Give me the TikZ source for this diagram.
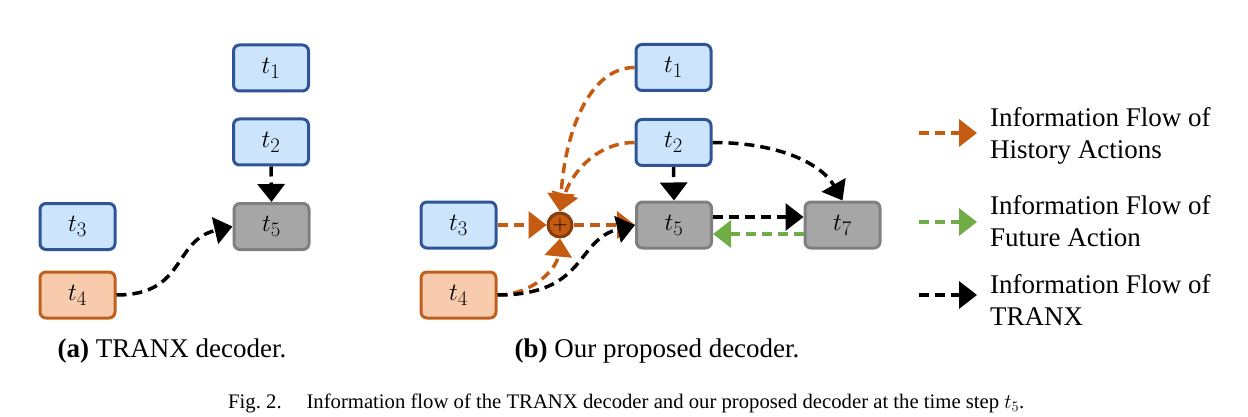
\documentclass[tikz,border=0pt]{standalone}
\usepackage{fontspec}
\setmainfont{Liberation Serif}
\usetikzlibrary{arrows.meta}
\definecolor{bfill}{HTML}{CCE4FC}
\definecolor{bdraw}{HTML}{2F5597}
\definecolor{ofill}{HTML}{F8CBAD}
\definecolor{odraw}{HTML}{C0601E}
\definecolor{gfill}{HTML}{A6A6A6}
\definecolor{gdraw}{HTML}{7F7F7F}
\definecolor{oarrow}{HTML}{C55A11}
\definecolor{odark}{HTML}{843C0C}
\definecolor{garrow}{HTML}{70AD47}
\DeclareMathSizes{30}{30}{22}{17}
\begin{document}
\begin{tikzpicture}[x=1pt,y=-1pt,
  box/.style={rounded corners=6pt,line width=3pt,minimum width=75pt,minimum height=46pt,inner sep=0pt,font=\fontsize{30}{34}\selectfont},
  bluebox/.style={box,draw=bdraw,fill=bfill},
  orangebox/.style={box,draw=odraw,fill=ofill},
  graybox/.style={box,draw=gdraw,fill=gfill},
  flow/.style={line width=3.5pt,dash pattern=on 10pt off 6pt,-{Triangle[width=27pt,length=18pt]}},
  hist/.style={flow,draw=oarrow,color=oarrow},
  fut/.style={flow,draw=garrow,color=garrow},
  tranx/.style={flow,draw=black},
  subcap/.style={font=\fontsize{27}{31}\selectfont},
  legtext/.style={font=\fontsize{27}{32}\selectfont,align=left,anchor=west,inner sep=0pt}
]
\useasboundingbox (0,0) rectangle (1248,417);
% (a)
\node[bluebox] (a1) at (271,68) {$t_1$};
\node[bluebox] (a2) at (271,142) {$t_2$};
\node[graybox] (a5) at (271.5,226.5) {$t_5$};
\node[bluebox] (a3) at (77.5,226.5) {$t_3$};
\node[orangebox] (a4) at (77.5,295) {$t_4$};
\draw[tranx] (a2.south) -- (a5.north);
\draw[tranx] (a4.east) .. controls +(70,0) and +(-60,14) .. (a5.west);
\node[subcap] (capa) at (172,351) {\textbf{(a)} TRANX decoder.};
% (b)
\node[bluebox] (b1) at (673.5,67.5) {$t_1$};
\node[bluebox] (b2) at (673.5,142.5) {$t_2$};
\node[graybox] (b5) at (674,225) {$t_5$};
\node[graybox] (b7) at (842.5,225) {$t_7$};
\node[bluebox] (b3) at (458.5,225) {$t_3$};
\node[orangebox] (b4) at (458.5,295) {$t_4$};
\node[circle,minimum size=24pt,inner sep=0pt,fill=oarrow,draw=odark,line width=3pt,font=\fontsize{22}{22}\selectfont] (plus) at (560,225) {$+$};
\draw[hist] (b1.west) .. controls +(-45,0) and +(5,-80) .. (plus.north);
\draw[hist] (b2.west) .. controls +(-40,0) and +(10,-35) .. (plus.north);
\draw[hist] (b3.east) -- (plus.west);
\draw[hist] (b4.east) .. controls +(35,0) and +(-3,30) .. (plus.south);
\draw[hist] (plus.east) -- (b5.west);
\draw[tranx] (b4.east) .. controls +(90,0) and +(-60,15) .. (b5.west);
\draw[tranx] (b2.south) -- (b5.north);
\draw[tranx] (b2.east) .. controls +(70,0) and +(-20,-35) .. (b7.north);
\draw[tranx] ([yshift=8pt]b5.east) -- ([yshift=8pt]b7.west);
\draw[fut] ([yshift=-9pt]b7.west) -- ([yshift=-9pt]b5.east);
\node[subcap] (capb) at (657,351) {\textbf{(b)} Our proposed decoder.};
% legend
\coordinate (l1s) at (919,133); \coordinate (l1e) at (977,133);
\coordinate (l2s) at (919,222); \coordinate (l2e) at (977,222);
\coordinate (l3s) at (919,295); \coordinate (l3e) at (977,295);
\draw[hist] (l1s) -- (l1e);
\draw[fut] (l2s) -- (l2e);
\draw[tranx] (l3s) -- (l3e);
\node[legtext] (t1) at (990,136) {Information Flow of\\History Actions};
\node[legtext] (t2) at (990,221) {Information Flow of\\Future Action};
\node[legtext] (t3) at (990,300) {Information Flow of\\TRANX};
% caption
\node[anchor=west,inner sep=0pt,font=\fontsize{20.7}{24}\selectfont] (fig) at (228,403) {Fig.~2.\hspace{1.2em}Information flow of the TRANX decoder and our proposed decoder at the time step $t_5$.};
\end{tikzpicture}
\end{document}
